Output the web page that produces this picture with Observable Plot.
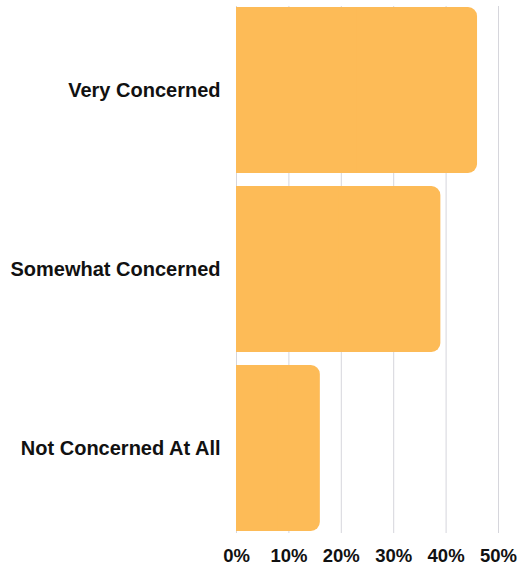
<!DOCTYPE html>
<html>
<head>
<meta charset="utf-8">
<script src="https://cdn.jsdelivr.net/npm/d3@7"></script>
<script src="https://cdn.jsdelivr.net/npm/@observablehq/plot@0.6"></script>
<style>
  html, body { margin: 0; padding: 0; background: #fff; }
  #chart svg { display: block; }
</style>
</head>
<body>
<div id="chart"></div>
<script>
const categories = ["Very Concerned", "Somewhat Concerned", "Not Concerned At All"];
const values = [46, 39, 16];
const tickValues = [0, 10, 20, 30, 40, 50];

const data = categories.map((c, i) => ({category: c, value: values[i]}));
const barColor = "#fdbb57";

const chart = Plot.plot({
  width: 517,
  height: 565,
  marginLeft: 236,
  marginRight: 19,
  marginTop: 6,
  marginBottom: 32,
  style: {fontFamily: "'Liberation Sans', Arial, sans-serif", fontWeight: "bold", fontSize: "20px", color: "#111", background: "#fff"},
  x: {domain: [0, 50], ticks: tickValues, tickFormat: d => d + "%", label: null, tickSize: 0, tickPadding: 15},
  y: {domain: categories, padding: 0.072, paddingOuter: 0, label: null, tickSize: 0, tickPadding: 16},
  marks: [
    Plot.gridX(tickValues, {stroke: "#d6d6dc", strokeOpacity: 1, strokeWidth: 1}),
    Plot.barX(data, {y: "category", x: "value", fill: barColor, rx: 9}),
    Plot.barX(data, {y: "category", x: d => d.value / 2, fill: barColor}),
    Plot.axisX({ticks: tickValues, tickFormat: d => d + "%", tickSize: 0, tickPadding: 15, label: null, fontSize: 18.5, fontWeight: "bold", fill: "#111"}),
    Plot.axisY({tickSize: 0, tickPadding: 16, label: null, fontSize: 20, fontWeight: "bold", fill: "#111"})
  ]
});
document.getElementById("chart").appendChild(chart);
</script>
</body>
</html>
